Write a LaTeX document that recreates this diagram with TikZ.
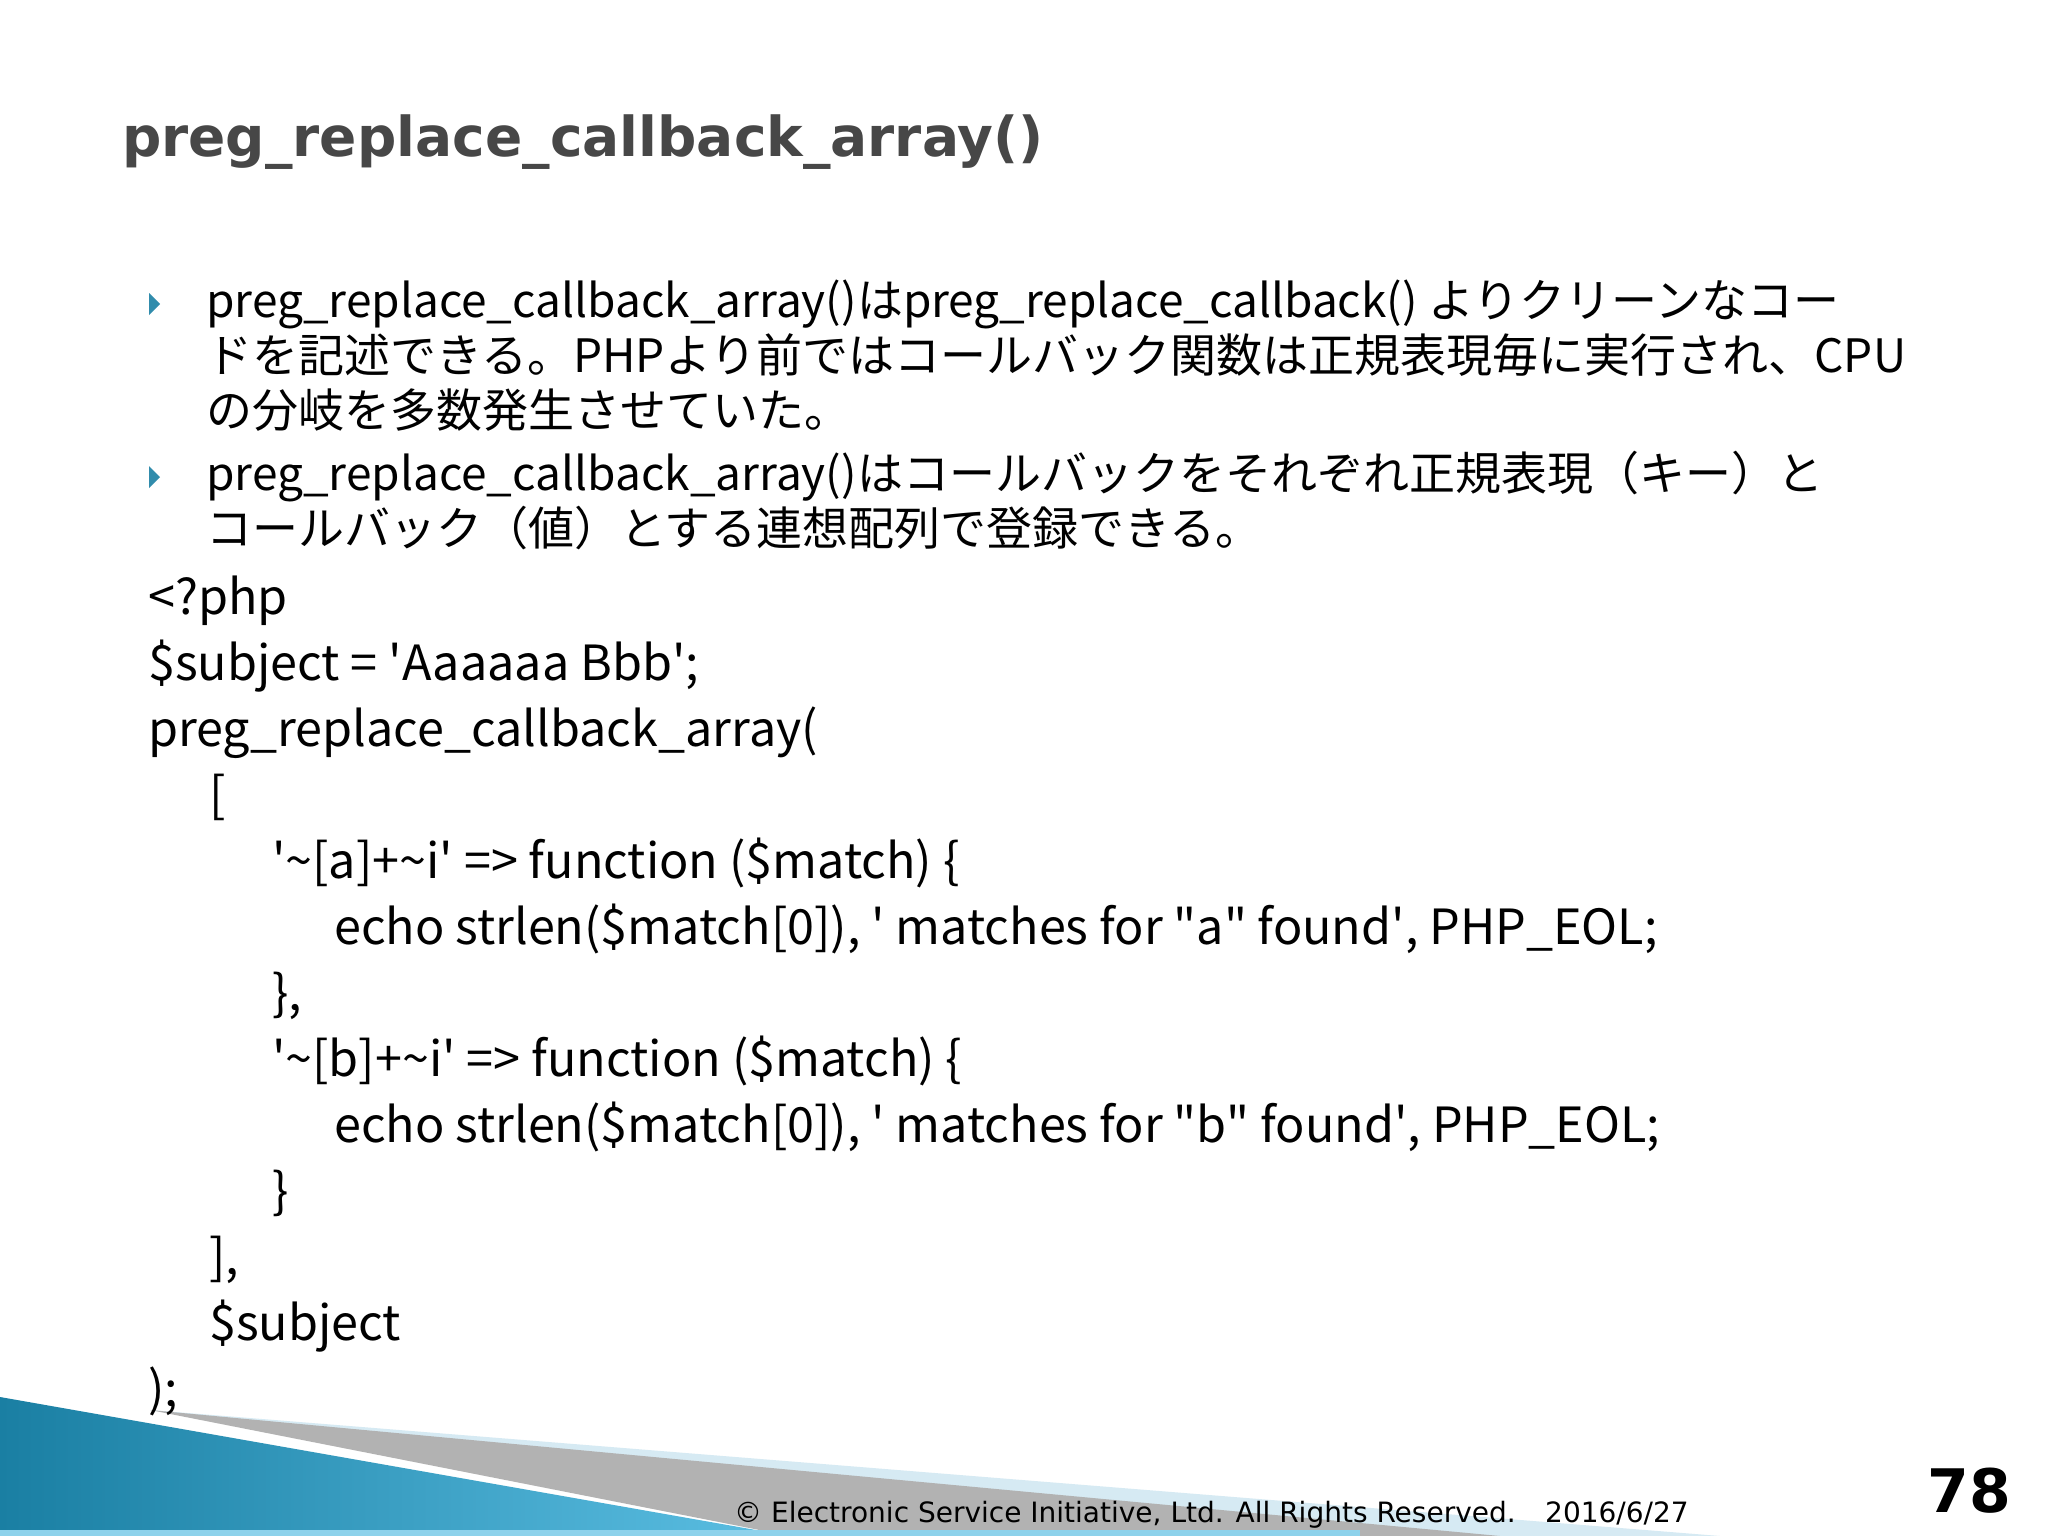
\documentclass[tikz,border=0pt]{standalone}
\usepackage{fontspec}
\setmainfont{Noto Sans CJK JP}
\newfontfamily\titlefont{DejaVu Sans}
\newcommand{\sq}{\textquotesingle}
\newcommand{\dq}{\textquotedbl}
\definecolor{tealA}{HTML}{1A7FA3}
\definecolor{tealB}{HTML}{5CBFE3}
\definecolor{paleB}{HTML}{D6EAF3}
\begin{document}
\begin{tikzpicture}[x=1pt,y=-1pt,
  body/.style={anchor=base west,inner sep=0pt,font=\fontsize{46}{50}\selectfont},
  code/.style={anchor=base west,inner sep=0pt,font=\fontsize{48.5}{52}\selectfont},
  foot/.style={anchor=base west,inner sep=0pt,font=\titlefont\fontsize{28}{30}\selectfont}]
\useasboundingbox (0,0) rectangle (2048,1536);
\fill[white] (0,0) rectangle (2048,1536);
% bottom-left decoration
\fill[paleB] (150,1410) -- (1720,1536) -- (950,1536) -- cycle;
\fill[gray!60] (150,1410) -- (1500,1536) -- (790,1536) -- cycle;
\shade[left color=tealA, right color=tealB] (0,1397) -- (790,1536) -- (0,1536) -- cycle;
\fill[tealB!70] (0,1530) rectangle (1360,1536);
% title
\node[anchor=base west,inner sep=0pt,text=black!72,font=\titlefont\bfseries\fontsize{55}{60}\selectfont] (title) at (122,157) {preg\_replace\_callback\_array()};
% bullets
\foreach \y in {304,477}{
  \fill[tealA!90] (149,\y-11) -- (160,\y) -- (149,\y+11) -- cycle;}
\node[body] (l1) at (206,317) {preg\_replace\_callback\_array()はpreg\_replace\_callback() よりクリーンなコー};
\node[body] (l2) at (206,372) {ドを記述できる。PHPより前ではコールバック関数は正規表現毎に実行され、CPU};
\node[body] (l3) at (206,427) {の分岐を多数発生させていた。};
\node[body] (l4) at (206,490) {preg\_replace\_callback\_array()はコールバックをそれぞれ正規表現（キー）と};
\node[body] (l5) at (206,545) {コールバック（値）とする連想配列で登録できる。};
% code
\node[code] (c1) at (148,614) {<?php};
\node[code] (c2) at (148,680) {\$subject = \sq Aaaaaa Bbb\sq;};
\node[code] (c3) at (148,746) {preg\_replace\_callback\_array(};
\node[code] (c4) at (209,812) {[};
\node[code] (c5) at (272,878) {\sq\textasciitilde[a]+\textasciitilde i\sq\ => function (\$match) \{};
\node[code] (c6) at (334,944) {echo strlen(\$match[0]), \sq\ matches for \dq a\dq\ found\sq, PHP\_EOL;};
\node[code] (c7) at (272,1010) {\},};
\node[code] (c8) at (272,1076) {\sq\textasciitilde[b]+\textasciitilde i\sq\ => function (\$match) \{};
\node[code] (c9) at (334,1142) {echo strlen(\$match[0]), \sq\ matches for \dq b\dq\ found\sq, PHP\_EOL;};
\node[code] (c10) at (272,1208) {\}};
\node[code] (c11) at (209,1274) {],};
\node[code] (c12) at (209,1340) {\$subject};
\node[code] (c13) at (148,1406) {);};
% footer
\node[foot] (copy) at (734,1522) {© Electronic Service Initiative, Ltd. All Rights Reserved.};
\node[foot] (date) at (1545,1522) {2016/6/27};
\node[anchor=base east,inner sep=0pt,font=\titlefont\bfseries\fontsize{60}{64}\selectfont] (page) at (2011,1512) {78};
\end{tikzpicture}
\end{document}
